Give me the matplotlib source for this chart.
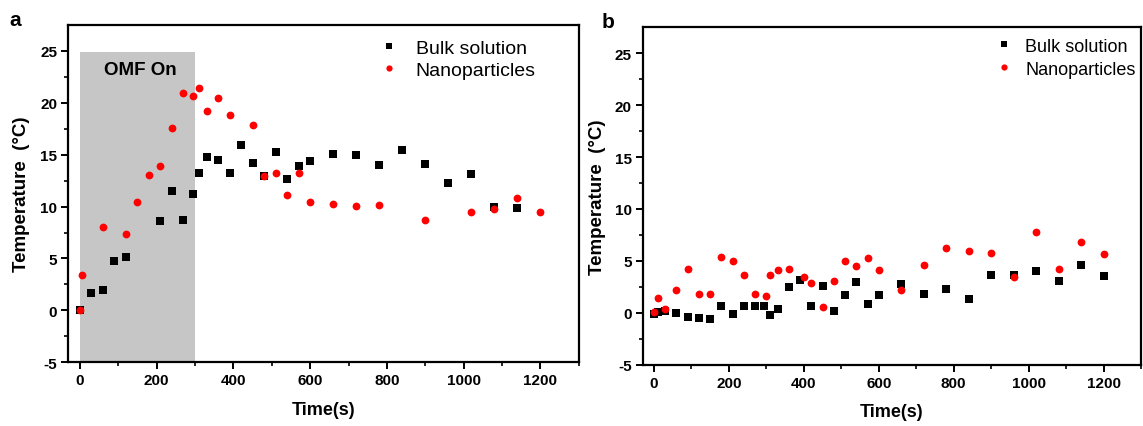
import matplotlib
matplotlib.use('Agg')
import matplotlib.pyplot as plt

plt.rcParams['font.family'] = ['Liberation Sans', 'DejaVu Sans']
plt.rcParams['axes.unicode_minus'] = False

# Panel a: temperature rise with the field switched on for the first 300 s
bulk_a_t = [0, 30, 60, 90, 120, 210, 240, 270, 296, 311, 330, 360, 390, 420, 450,
            480, 510, 540, 570, 600, 660, 720, 780, 840, 900, 960, 1020, 1080, 1140]
bulk_a_T = [0.0, 1.64, 1.96, 4.75, 5.1, 8.6, 11.46, 8.67, 11.23, 13.23, 14.8, 14.51,
            13.23, 15.92, 14.19, 12.9, 15.22, 12.62, 13.9, 14.43, 15.06, 14.96, 14.03,
            15.47, 14.09, 12.26, 13.16, 9.92, 9.83]

nano_a_t = [0, 5, 60, 120, 150, 180, 210, 240, 270, 296, 311, 330, 360, 390, 450,
            480, 510, 540, 570, 600, 660, 720, 780, 900, 1020, 1080, 1140, 1200]
nano_a_T = [0.0, 3.4, 8.0, 7.32, 10.46, 13.06, 13.93, 17.53, 20.93, 20.62, 21.39,
            19.2, 20.48, 18.84, 17.88, 12.91, 13.26, 11.08, 13.26, 10.46, 10.27,
            10.05, 10.12, 8.73, 9.5, 9.76, 10.82, 9.5]

# Panel b: no field
bulk_b_t = [0, 10, 30, 60, 90, 120, 150, 180, 210, 240, 270, 295, 310, 330, 360, 390,
            420, 450, 480, 510, 540, 570, 600, 660, 720, 780, 840, 900, 960, 1020,
            1080, 1140, 1200]
bulk_b_T = [-0.1, 0.1, 0.16, 0.0, -0.45, -0.5, -0.6, 0.67, -0.1, 0.65, 0.67, 0.6,
            -0.2, 0.36, 2.5, 3.15, 0.67, 2.54, 0.2, 1.73, 3.0, 0.87, 1.73, 2.8, 1.83,
            2.28, 1.32, 3.66, 3.63, 4.05, 3.08, 4.62, 3.5]

nano_b_t = [0, 10, 30, 60, 90, 120, 150, 180, 210, 240, 270, 300, 310, 330, 360, 400,
            420, 450, 480, 510, 540, 570, 600, 660, 720, 780, 840, 900, 960, 1020,
            1080, 1140, 1200]
nano_b_T = [0.1, 1.4, 0.33, 2.15, 4.25, 1.8, 1.8, 5.4, 4.95, 3.66, 1.8, 1.6, 3.66,
            4.08, 4.25, 3.47, 2.83, 0.58, 3.02, 5.0, 4.5, 5.27, 4.14, 2.16, 4.6, 6.26,
            5.9, 5.75, 3.47, 7.74, 4.2, 6.78, 5.65]

field_on = (0, 300)
field_top = 24.9

fig = plt.figure(figsize=(11.43, 4.27), dpi=100)
ax_a = fig.add_axes([0.0598, 0.1494, 0.4466, 0.7897])
ax_b = fig.add_axes([0.5623, 0.1440, 0.4360, 0.7897])


def style_axis(ax, xmax):
    ax.set_xlim(-30, xmax)
    ax.set_ylim(-5, 27.5)
    ax.set_xticks(range(0, 1201, 200))
    ax.set_xticks(range(100, 1301, 200), minor=True)
    ax.set_yticks(range(-5, 26, 5))
    ax.set_yticks([-2.5, 2.5, 7.5, 12.5, 17.5, 22.5], minor=True)
    for s in ax.spines.values():
        s.set_linewidth(1.6)
    ax.tick_params(which='major', direction='out', length=5, width=1.4,
                   labelsize=11, pad=3)
    ax.tick_params(which='minor', direction='out', length=3, width=1.2)
    for lbl in ax.get_xticklabels() + ax.get_yticklabels():
        lbl.set_fontweight('bold')
    ax.set_xlabel('Time(s)', fontsize=13, fontweight='bold')
    ax.set_ylabel('Temperature  (\u00b0C)', fontsize=13.5, fontweight='bold')
    ax.xaxis.set_label_coords(0.5, -0.115)


# panel a
ax_a.fill_between(field_on, -5, field_top, color='#c6c6c6', lw=0, zorder=0)
ax_a.text(157, 23.2, 'OMF On', fontsize=13.5, fontweight='bold', ha='center',
          va='center')
ax_a.plot(bulk_a_t, bulk_a_T, 's', color='black', ms=5.3, mew=0,
          label='Bulk solution')
ax_a.plot(nano_a_t, nano_a_T, 'o', color='red', ms=5.6, mew=0,
          label='Nanoparticles')
style_axis(ax_a, 1300)
ax_a.yaxis.set_label_coords(-0.075, 0.5)
ax_a.legend(loc='upper left', bbox_to_anchor=(0.609, 0.958), frameon=False,
            fontsize=14, handlelength=1.0, handletextpad=0.87, labelspacing=0.25,
            borderpad=0, borderaxespad=0, markerscale=0.8)

# panel b
ax_b.plot(bulk_b_t, bulk_b_T, 's', color='black', ms=5.3, mew=0,
          label='Bulk solution')
ax_b.plot(nano_b_t, nano_b_T, 'o', color='red', ms=5.6, mew=0,
          label='Nanoparticles')
style_axis(ax_b, 1265)
ax_b.yaxis.set_label_coords(-0.074, 0.5)
ax_b.legend(loc='upper left', bbox_to_anchor=(0.707, 0.969), frameon=False,
            fontsize=13, handlelength=1.0, handletextpad=0.66, labelspacing=0.33,
            borderpad=0, borderaxespad=0, markerscale=0.8)

fig.text(15 / 1143, 1 - 20 / 427, 'a', fontsize=15, fontweight='bold',
         ha='center', va='center')
fig.text(608 / 1143, 1 - 22 / 427, 'b', fontsize=15, fontweight='bold',
         ha='center', va='center')

fig.savefig('out.png', dpi=100)
